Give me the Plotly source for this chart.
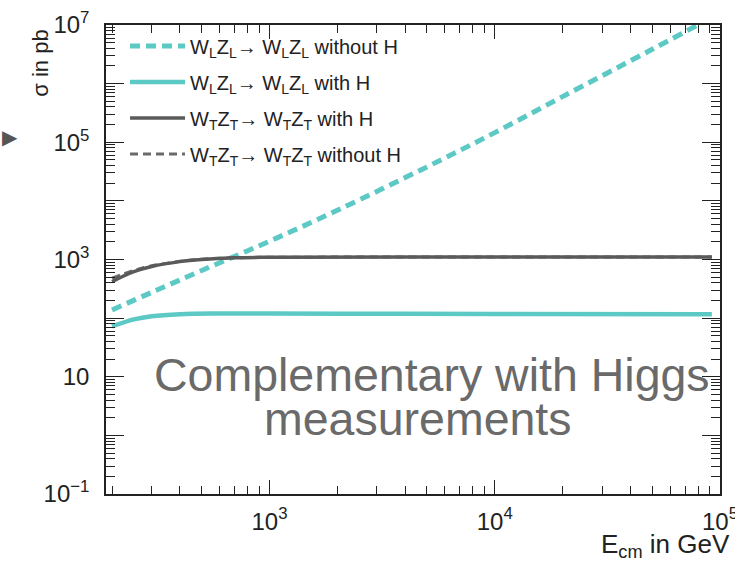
import numpy as np
import plotly.graph_objects as go

# ---- data ----
E_LL_noH = [200, 300, 500, 1000, 2000, 5000, 10000, 20000, 50000, 100000]
S_LL_noH = [138, 275, 650, 2050, 6900, 38000, 146000, 600000, 3.85e6, 1.6e7]

E_LL_H = [200, 250, 300, 400, 600, 1000, 3000, 10000, 92000]
S_LL_H = [72, 95, 108, 117, 120, 120, 119, 118, 117]

E_TT_H = [200, 250, 300, 400, 500, 700, 1000, 10000, 92000]
S_TT_H = [420, 620, 760, 920, 1000, 1070, 1090, 1100, 1100]

E_TT_noH = [200, 250, 300, 400, 500, 700, 1000, 10000, 92000]
S_TT_noH = [480, 650, 780, 930, 1010, 1070, 1090, 1100, 1100]

names = [
    "W<sub>L</sub>Z<sub>L</sub>→ W<sub>L</sub>Z<sub>L</sub> without H",
    "W<sub>L</sub>Z<sub>L</sub>→ W<sub>L</sub>Z<sub>L</sub> with H",
    "W<sub>T</sub>Z<sub>T</sub>→ W<sub>T</sub>Z<sub>T</sub> with H",
    "W<sub>T</sub>Z<sub>T</sub>→ W<sub>T</sub>Z<sub>T</sub> without H",
]

y_major = [10.0 ** k for k in range(-1, 8)]
y_major_text = ["10<sup>−1</sup>", "", "10", "", "10<sup>3</sup>", "", "10<sup>5</sup>", "", "10<sup>7</sup>"]
x_major = [1e3, 1e4, 1e5]
x_major_text = ["10<sup>3</sup>", "10<sup>4</sup>", "10<sup>5</sup>"]

TEAL = "#5cc9c5"
GRAY = "#5a5a5a"
GRAY2 = "#6a6a6a"
FONT = "Liberation Sans, Arial, sans-serif"

fig = go.Figure()
fig.add_trace(go.Scatter(x=E_LL_noH, y=S_LL_noH, mode="lines", name=names[0], legendgroup="a",
                         legendrank=1, line=dict(color=TEAL, width=5, dash="10px,6px", shape="spline")))
fig.add_trace(go.Scatter(x=E_LL_H, y=S_LL_H, mode="lines", name=names[1], legendgroup="b",
                         legendrank=2, line=dict(color=TEAL, width=4.5, shape="spline")))
fig.add_trace(go.Scatter(x=E_TT_noH, y=S_TT_noH, mode="lines", name=names[3], legendgroup="d",
                         legendrank=4, line=dict(color=GRAY2, width=3, dash="8px,5px", shape="spline")))
fig.add_trace(go.Scatter(x=E_TT_H, y=S_TT_H, mode="lines", name=names[2], legendgroup="c",
                         legendrank=3, line=dict(color=GRAY, width=3.5, shape="spline")))

x_minor = [m * 10.0 ** k for k in range(2, 5) for m in range(2, 10)]
y_minor = [m * 10.0 ** k for k in range(-1, 7) for m in range(2, 10)]

fig.update_xaxes(
    type="log", range=[np.log10(188), 5.0], automargin=False,
    showline=True, linecolor="#222", linewidth=1.5, mirror="ticks",
    ticks="inside", ticklen=14, tickwidth=1.3, tickcolor="#222",
    tickmode="array", tickvals=x_major, ticktext=x_major_text,
    minor=dict(tickmode="array", tickvals=x_minor, ticks="inside", ticklen=8,
               tickwidth=1.1, tickcolor="#222", showgrid=False),
    showgrid=False, zeroline=False, ticklabeloverflow="allow",
    tickfont=dict(family=FONT, size=24, color="#222"), ticklabelstandoff=5,
)
fig.update_yaxes(
    type="log", range=[-1, 7], automargin=False,
    showline=True, linecolor="#222", linewidth=1.5, mirror="ticks",
    ticks="inside", ticklen=18, tickwidth=1.3, tickcolor="#222",
    tickmode="array", tickvals=y_major, ticktext=y_major_text,
    minor=dict(tickmode="array", tickvals=y_minor, ticks="inside", ticklen=9,
               tickwidth=1.1, tickcolor="#222", showgrid=False),
    showgrid=False, zeroline=False,
    tickfont=dict(family=FONT, size=24, color="#222"), ticklabelstandoff=10,
)

fig.update_layout(
    width=735, height=562,
    margin=dict(l=106, r=15, t=25, b=68),
    paper_bgcolor="white", plot_bgcolor="white",
    font=dict(family=FONT, color="#222"),
    showlegend=True,
    legend=dict(x=0.031, y=0.997, xanchor="left", yanchor="top",
                bgcolor="rgba(0,0,0,0)", font=dict(family=FONT, size=20, color="#222"),
                tracegroupgap=7, itemwidth=55, traceorder="grouped"),
    annotations=[
        dict(text="Complementary with Higgs", x=0.531, y=0.254, xref="paper", yref="paper",
             showarrow=False, font=dict(family=FONT, size=46.5, color="#6a6a6a"),
             xanchor="center", yanchor="middle"),
        dict(text="measurements", x=0.508, y=0.160, xref="paper", yref="paper",
             showarrow=False, font=dict(family=FONT, size=46.5, color="#6a6a6a"),
             xanchor="center", yanchor="middle"),
        dict(text="σ in pb", x=-0.107, y=0.918, xref="paper", yref="paper", textangle=-90,
             showarrow=False, font=dict(family=FONT, size=22, color="#222"),
             xanchor="center", yanchor="middle"),
        dict(text="E<sub>cm</sub> in GeV", x=1.02, y=-0.109, xref="paper", yref="paper",
             showarrow=False, font=dict(family=FONT, size=26, color="#222"),
             xanchor="right", yanchor="middle"),
        dict(text="▶", x=-0.157, y=0.762, xref="paper", yref="paper",
             showarrow=False, font=dict(family="DejaVu Sans", size=20, color="#555"),
             xanchor="center", yanchor="middle"),
    ],
)

fig.write_html("out.html", config={"displayModeBar": False},
               post_script="document.body.style.margin='0';")
